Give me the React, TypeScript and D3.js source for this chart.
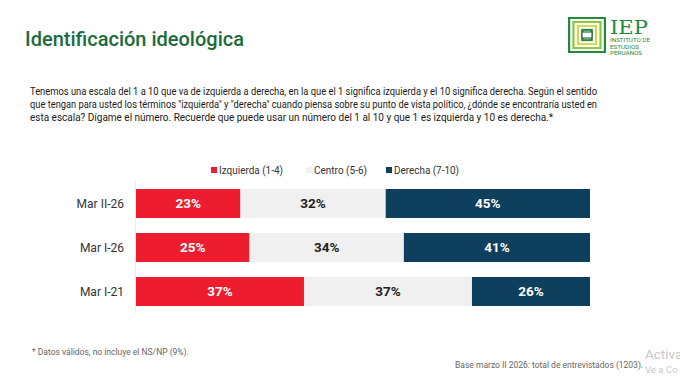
import React from "react";
import * as d3 from "d3";

const categories = ["Mar II-26", "Mar I-26", "Mar I-21"];
const izquierda = [23, 25, 37];
const centro = [32, 34, 37];
const derecha = [45, 41, 26];
const seriesNames = ["Izquierda (1-4)", "Centro (5-6)", "Derecha (7-10)"];
const colors = ["#ED1C2E", "#F0F0F0", "#0E3F5C"];
const labelColors = ["#ffffff", "#222222", "#ffffff"];

const questionLines = [
  "Tenemos una escala del 1 a 10 que va de izquierda a derecha, en la que el 1 significa izquierda y el 10 significa derecha. Según el sentido",
  "que tengan para usted los términos \"izquierda\" y \"derecha\" cuando piensa sobre su punto de vista político, ¿dónde se encontraría usted en",
  "esta escala? Dígame el número. Recuerde que puede usar un número del 1 al 10 y que 1 es izquierda y 10 es derecha.*",
];

const W = 680;
const H = 381;

export default function App() {
  const x = d3.scaleLinear().domain([0, 100]).range([136, 590]);
  const y = d3.scaleBand<string>().domain(categories).range([189, 306]).paddingInner(15 / 44).paddingOuter(0);
  const series = [izquierda, centro, derecha];
  const stacks = categories.map((c, i) => {
    let acc = 0;
    return series.map((s, k) => {
      const x0 = acc;
      acc += s[i];
      return { k, x0, x1: acc, v: s[i] };
    });
  });
  const font = "Roboto, 'Noto Sans', sans-serif";
  const legendX = [211, 306, 386];
  const legendTextW = [64, 53, 65];
  const logoX = 568, logoY = 17, logoS = 38;
  const rings = ["#1f8a3c", "#ffffff", "#8cc63f", "#ffffff", "#d6d84a", "#ffffff", "#1f8a3c", "#ffffff", "#2d6a3a"];

  return (
    <div style={{ position: "absolute", left: 0, top: 0, width: W, height: H, background: "#fff" }}>
      <svg width={W} height={H} style={{ display: "block", fontFamily: font }}>
        <rect width={W} height={H} fill="#fff" />
        <text x={25} y={46} fontSize={20} fontWeight={500} fill="#1B6B3A">Identificación ideológica</text>

        {/* logo */}
        <g>
          {rings.map((c, i) => {
            const inset = i * 2.2;
            return (
              <rect key={i} x={logoX + inset} y={logoY + inset * 0.9} width={logoS - 2 * inset} height={36 - 2 * inset * 0.9} fill={c} />
            );
          })}
          <rect x={logoX + 14} y={logoY + 15} width={10} height={6} fill="#fff" stroke="#2d6a3a" strokeWidth={1.2} />
          <text x={610} y={34} fontFamily="'DejaVu Serif', 'Liberation Serif', serif" fontSize={19} fill="#1f8a3c" textLength={38} lengthAdjust="spacingAndGlyphs">IEP</text>
          <text x={610} y={42} fontSize={5.5} fill="#1f8a3c" textLength={40} lengthAdjust="spacingAndGlyphs">INSTITUTO DE</text>
          <text x={610} y={48.5} fontSize={5.5} fill="#1f8a3c" textLength={29} lengthAdjust="spacingAndGlyphs">ESTUDIOS</text>
          <text x={610} y={55} fontSize={5.5} fill="#1f8a3c" textLength={32} lengthAdjust="spacingAndGlyphs">PERUANOS</text>
        </g>

        {questionLines.map((l, i) => (
          <text key={i} x={30} y={95 + i * 13} fontSize={10.6} fill="#1a1a1a"
            textLength={i === 2 ? 523 : 567} lengthAdjust="spacingAndGlyphs">{l}</text>
        ))}

        {/* legend */}
        {seriesNames.map((n, k) => (
          <g key={n}>
            <rect x={legendX[k]} y={167} width={6} height={6} fill={colors[k]} />
            <text x={legendX[k] + 8} y={174} fontSize={11} fill="#333" textLength={legendTextW[k]} lengthAdjust="spacingAndGlyphs">{n}</text>
          </g>
        ))}

        {/* faint axis */}
        <line x1={135.5} x2={135.5} y1={180} y2={313} stroke="#ececec" />

        {categories.map((c, i) => (
          <g key={c}>
            <text x={124} y={(y(c) as number) + y.bandwidth() / 2 + 4.3} textAnchor="end" fontSize={12} fill="#333">{c}</text>
            {stacks[i].map((s) => (
              <g key={s.k}>
                <rect x={x(s.x0)} y={y(c)} width={x(s.x1) - x(s.x0)} height={y.bandwidth()} fill={colors[s.k]} />
                <text x={(x(s.x0) + x(s.x1)) / 2} y={(y(c) as number) + y.bandwidth() / 2 + 4.8} textAnchor="middle" fontSize={13.5} fontWeight={700} fill={labelColors[s.k]}>{s.v}%</text>
              </g>
            ))}
          </g>
        ))}

        <text x={32} y={355} fontSize={8.5} fill="#666">* Datos válidos, no incluye el NS/NP (9%).</text>
        <text x={455} y={368} fontSize={8.5} fill="#666">Base marzo II 2026: total de entrevistados (1203).</text>
        <text x={645} y={359} fontSize={13.5} fill="#c8c8c8">Activa</text>
        <text x={645} y={373} fontSize={9.5} fill="#c8c8c8">Ve a Co</text>
      </svg>
    </div>
  );
}
